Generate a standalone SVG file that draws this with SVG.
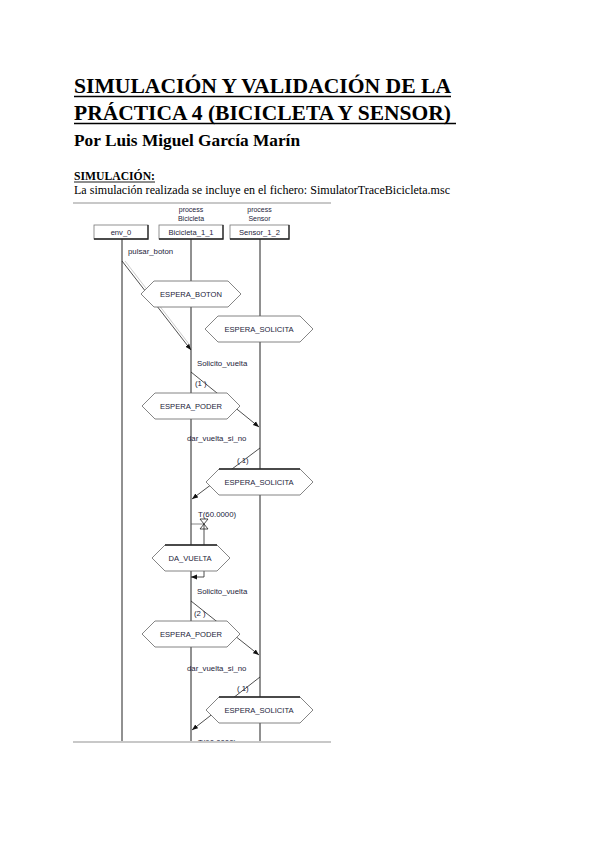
<svg xmlns="http://www.w3.org/2000/svg" width="600" height="848" viewBox="0 0 600 848">
<defs>
<style>
.h{font-family:"Liberation Serif","Times New Roman",serif;font-weight:bold;fill:#000}
.p{font-family:"Liberation Serif","Times New Roman",serif;fill:#000}
.t{font-family:"Liberation Sans",Arial,sans-serif;font-size:7.8px;fill:#23233a}
.s{font-family:"Liberation Sans",Arial,sans-serif;font-size:7.6px;fill:#23233a;text-anchor:middle}
.pr{font-family:"Liberation Sans",Arial,sans-serif;font-size:7px;fill:#23233a;text-anchor:middle}
.life{stroke:#222;stroke-width:1;fill:none}
.msg{stroke:#222;stroke-width:0.8;fill:none;marker-end:url(#ah)}
.hex{fill:#fff;stroke:#666;stroke-width:0.8}
.box{fill:#fff;stroke:#777;stroke-width:0.8}
.shadow{stroke:#222;stroke-width:1.3;fill:none}
.rule{stroke:#c8c8c8;stroke-width:2}
.ul{stroke:#000}
</style>
<marker id="ah" viewBox="0 0 10 10" refX="10" refY="5" markerWidth="6" markerHeight="6" orient="auto" markerUnits="userSpaceOnUse">
<path d="M0,1 L10,5 L0,9 Z" fill="#111"/>
</marker>
<clipPath id="clip"><rect x="60" y="200" width="300" height="541"/></clipPath>
</defs>
<rect width="600" height="848" fill="#fff"/>

<g id="header">
<text class="h" x="74" y="93" font-size="21.5" textLength="377" lengthAdjust="spacingAndGlyphs">SIMULACIÓN Y VALIDACIÓN DE LA</text>
<line class="ul" x1="74" y1="96.5" x2="451" y2="96.5" stroke-width="1.6"/>
<text class="h" x="74" y="120" font-size="21.5" textLength="377" lengthAdjust="spacingAndGlyphs">PRÁCTICA 4 (BICICLETA Y SENSOR)</text>
<line class="ul" x1="74" y1="123.5" x2="456" y2="123.5" stroke-width="1.6"/>
<text class="h" x="74" y="146" font-size="17" textLength="226" lengthAdjust="spacingAndGlyphs">Por Luis Miguel García Marín</text>
<text class="h" x="74" y="180" font-size="12" textLength="81" lengthAdjust="spacingAndGlyphs">SIMULACIÓN:</text>
<line class="ul" x1="74" y1="182" x2="155" y2="182" stroke-width="0.9"/>
<text class="p" x="74" y="194" font-size="12" textLength="376" lengthAdjust="spacingAndGlyphs">La simulación realizada se incluye en el fichero: SimulatorTraceBicicleta.msc</text>
</g>

<line class="rule" x1="73" y1="203" x2="331" y2="203"/>
<line class="rule" x1="73" y1="742" x2="331" y2="742"/>

<g clip-path="url(#clip)">
<g id="lifelines">
<line class="life" x1="122" y1="239" x2="122" y2="745"/>
<line class="life" x1="191" y1="239" x2="191" y2="745"/>
<line class="life" x1="260" y1="239" x2="260" y2="745" stroke-width="1.5"/>
</g>

<g id="env_0">
<rect class="box" x="94" y="225" width="54" height="14"/>
<polyline class="shadow" points="94,239 148,239 148,225"/>
<text class="s" x="121" y="235">env_0</text>
</g>
<g id="Bicicleta_1_1">
<text class="pr" x="191" y="212">process</text>
<text class="pr" x="191" y="220.5">Bicicleta</text>
<rect class="box" x="159" y="225" width="64" height="14"/>
<polyline class="shadow" points="159,239 223,239 223,225"/>
<text class="s" x="191" y="235">Bicicleta_1_1</text>
</g>
<g id="Sensor_1_2">
<text class="pr" x="259.5" y="212">process</text>
<text class="pr" x="259.5" y="220.5">Sensor</text>
<rect class="box" x="230" y="225" width="59" height="14"/>
<polyline class="shadow" points="230,239 289,239 289,225"/>
<text class="s" x="259.5" y="235">Sensor_1_2</text>
</g>

<g id="connectors">
<line class="msg" x1="122" y1="261" x2="191" y2="350"/>
<line x1="125" y1="261" x2="192" y2="348" stroke="#999" stroke-width="0.5"/>
<text class="t" x="128" y="254">pulsar_boton</text>
<line class="msg" x1="191" y1="372" x2="259" y2="427"/>
<text class="t" x="197" y="366">Solicito_vuelta</text>
<text class="t" x="195" y="386">(1  )</text>
<line class="msg" x1="260" y1="448" x2="192" y2="499"/>
<text class="t" x="187" y="441">dar_vuelta_si_no</text>
<text class="t" x="237" y="463">(  1)</text>
<g id="timer">
<line x1="191" y1="524" x2="204" y2="524" stroke="#555" stroke-width="0.7"/>
<path d="M200,519 L208,519 L200,529 L208,529 Z" fill="none" stroke="#222" stroke-width="0.8"/>
<line x1="204" y1="524" x2="204" y2="577" stroke="#222" stroke-width="0.8"/>
<line class="msg" x1="204" y1="577" x2="191" y2="577" stroke-width="1.2"/>
<text class="t" x="198" y="517">T(60.0000)</text>
</g>
<line class="msg" x1="191" y1="601" x2="259" y2="655"/>
<text class="t" x="197" y="594">Solicito_vuelta</text>
<text class="t" x="194" y="616">(2  )</text>
<line class="msg" x1="260" y1="677" x2="192" y2="730"/>
<text class="t" x="187" y="671">dar_vuelta_si_no</text>
<text class="t" x="237" y="691">(  1)</text>
<text class="t" x="198" y="745">T(60.0000)</text>
</g>

<g id="ESPERA_BOTON">
<polygon class="hex" points="141,294 154,281 228,281 241,294 228,307 154,307"/>
<text class="s" x="191" y="297">ESPERA_BOTON</text>
</g>
<g id="ESPERA_SOLICITA_1">
<polygon class="hex" points="205,329 218,316 300,316 313,329 300,342 218,342"/>
<text class="s" x="259" y="332">ESPERA_SOLICITA</text>
</g>
<g id="ESPERA_PODER_1">
<polygon class="hex" points="142,406 155,393 227,393 240,406 227,419 155,419"/>
<text class="s" x="191" y="409">ESPERA_PODER</text>
</g>
<g id="ESPERA_SOLICITA_2">
<polygon class="hex" points="206,482 219,469 300,469 313,482 300,495 219,495"/>
<line x1="219" y1="469" x2="300" y2="469" stroke="#222" stroke-width="1.5"/>
<text class="s" x="259" y="485">ESPERA_SOLICITA</text>
</g>
<g id="DA_VUELTA">
<polygon class="hex" points="152,558 165,545 217,545 230,558 217,571 165,571"/>
<line x1="165" y1="545" x2="217" y2="545" stroke="#222" stroke-width="1.5"/>
<text class="s" x="190" y="561">DA_VUELTA</text>
</g>
<g id="ESPERA_PODER_2">
<polygon class="hex" points="142,634 155,621 227,621 240,634 227,647 155,647"/>
<text class="s" x="191" y="637">ESPERA_PODER</text>
</g>
<g id="ESPERA_SOLICITA_3">
<polygon class="hex" points="206,710 219,697 300,697 313,710 300,723 219,723"/>
<line x1="219" y1="697" x2="300" y2="697" stroke="#222" stroke-width="1.5"/>
<text class="s" x="259" y="713">ESPERA_SOLICITA</text>
</g>
</g>
</svg>
